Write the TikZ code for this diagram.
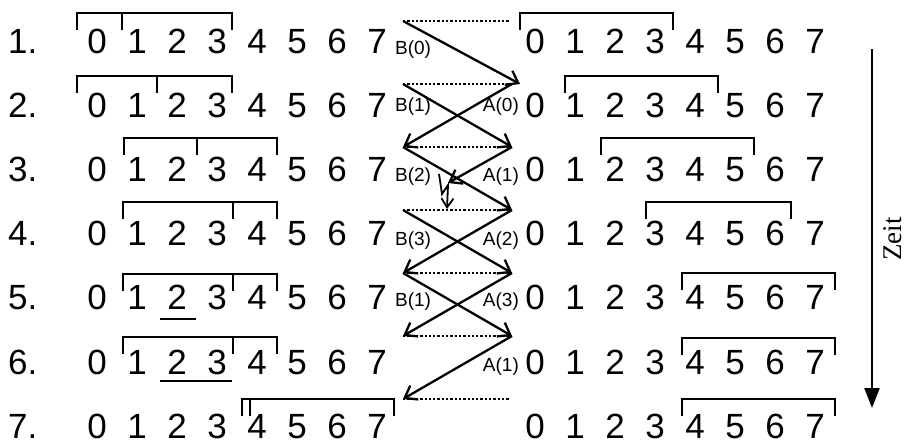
\documentclass[tikz,border=0pt]{standalone}
\usepackage{fontspec}
\setmainfont{Liberation Sans}
\newfontfamily\zeitfont{Liberation Serif}
\usetikzlibrary{arrows.meta}

\begin{document}
\begin{tikzpicture}[x=1pt, y=-1pt, line width=2.3pt,
  digit/.style={font=\fontsize{35}{40}\selectfont, anchor=base, inner sep=0pt},
  tag/.style={font=\fontsize{19}{21}\selectfont, inner sep=0pt},
  move/.style={-{Straight Barb[length=11pt,width=16pt]}},
  slot/.style={dash pattern=on 2.3pt off 2pt}]
\useasboundingbox (0,0) rectangle (904,441);
% Row numbers and the two rows of digits
\foreach \r in {1,...,7}{
  \pgfmathsetmacro\base{53.5+64.1*(\r-1)}
  \node[digit, anchor=base west] (n\r) at (7,\base) {\r.};
  \foreach \d in {0,...,7}{
    \node[digit] (l\r-\d) at (97+40*\d,\base) {\d};
    \node[digit] (r\r-\d) at (535+40*\d,\base) {\d};
  }
}
% Brackets, left side (three ticks)
\foreach \yl/\ta/\tb/\tc in {12.7/77/122/232, 76/77/157/232,
    138/124/197/277, 202/123/233/277, 274/123/233/277,
    337/123/233/277, 399/242/250/394}{
  \draw (\ta,\yl+17) -- (\ta,\yl) -- (\tc,\yl) -- (\tc,\yl+17);
  \draw (\tb,\yl) -- (\tb,\yl+17);
}
% Brackets, right side
\foreach \yl/\ta/\tc in {12.7/520/673, 76/565/718, 138/601/754,
    202/646/791, 273/682/835, 338/682/835, 399/682/835}{
  \draw (\ta,\yl+17) -- (\ta,\yl) -- (\tc,\yl) -- (\tc,\yl+17);
}
% Underlines
\draw (160,319) -- (196,319);
\draw (160,381) -- (232,381);
% Levels between the rows
\foreach \k in {0,...,6}{
  \coordinate (p\k) at (403,21+63*\k);
  \coordinate (q\k) at (512,21+63*\k);
  \draw[slot] (p\k) -- ([xshift=-2pt]q\k);
}
% Messages
\draw[move] (p0) -- ([xshift=8pt]q1);
\draw[move] (p1) -- (q2);
\draw[move] (q1) -- (p2);
\draw[move] (p2) -- (q3);
\coordinate (halt) at (448,183);
\draw[move] (q2) -- (halt);
\draw[move] (p3) -- (q4);
\draw[move] (q3) -- (p4);
\draw[move] (p4) -- (q5);
\draw[move] (q4) -- (p5);
\draw[move] (q5) -- (p6);
% Lost message (bolt)
\coordinate (bolt) at (439,174);
\draw[-{Straight Barb[length=9pt,width=12pt]}, line width=1.8pt]
  (bolt) -- (442,194) -- (448,185) -- (447,209);
% Labels
\node[tag, anchor=base west] (b0) at (394,55) {B(0)};
\node[tag, anchor=base west] (b1) at (394,111) {B(1)};
\node[tag, anchor=base west] (b2) at (394,181) {B(2)};
\node[tag, anchor=base west] (b3) at (394,245) {B(3)};
\node[tag, anchor=base west] (b4) at (394,306) {B(1)};
\node[tag, anchor=base east] (a0) at (520,111) {A(0)};
\node[tag, anchor=base east] (a1) at (520,181) {A(1)};
\node[tag, anchor=base east] (a2) at (520,245) {A(2)};
\node[tag, anchor=base east] (a3) at (520,306) {A(3)};
\node[tag, anchor=base east] (a4) at (520,371) {A(1)};
% Time axis
\coordinate (t0) at (872,49);
\coordinate (t1) at (872,408);
\draw[-{Triangle[length=20pt,width=15pt]}] (t0) -- (t1);
\node[font=\zeitfont\fontsize{27}{30}\selectfont, rotate=90] (zeit) at (893,239) {Zeit};
\end{tikzpicture}
\end{document}
